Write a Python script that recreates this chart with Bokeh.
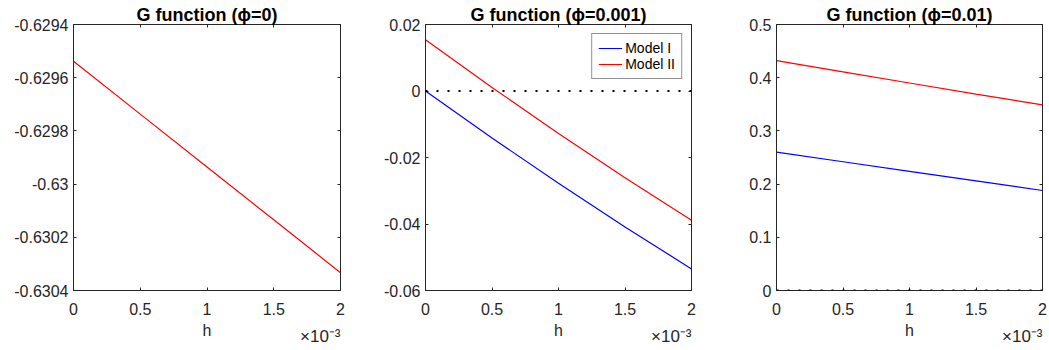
from bokeh.plotting import figure
from bokeh.models import (Range1d, FixedTicker, LinearAxis, Span, Title,
                          CustomJSTickFormatter, Legend, LegendItem,
                          CustomLabelingPolicy)
from bokeh.layouts import row
from bokeh.embed import file_html
from bokeh.resources import INLINE

# ---- data (h in units of 1e-3) ----
h = [0.0, 0.5, 1.0, 1.5, 2.0]

g_phi0_model2 = [-0.629538, -0.629737, -0.629936, -0.630134, -0.630333]

g_phi001_model1 = [0.0, -0.01413, -0.02775, -0.04088, -0.0535]
g_phi001_model2 = [0.0154, 0.00107, -0.01275, -0.02608, -0.0389]

g_phi01_model1 = [0.260, 0.242, 0.224, 0.206, 0.188]
g_phi01_model2 = [0.432, 0.411, 0.390, 0.369, 0.349]

x_ticks = [0, 0.5, 1, 1.5, 2]
y_ticks_1 = [-0.6304, -0.6302, -0.63, -0.6298, -0.6296, -0.6294]
y_ticks_2 = [-0.06, -0.04, -0.02, 0, 0.02]
y_ticks_3 = [0, 0.1, 0.2, 0.3, 0.4, 0.5]

titles = ["G function (\u03d5=0)", "G function (\u03d5=0.001)", "G function (\u03d5=0.01)"]
series_names = ["Model I", "Model II"]
x_label = "h"
x_multiplier = "\u00d710\u207b\u00b3"

# ---- style ----
FONT = "Liberation Sans"
AX = "#262626"
BLUE = "#0000FF"
RED = "#FF0000"

fmt = CustomJSTickFormatter(code="return (+tick.toPrecision(5)).toString();")


def style_axis(ax, hidden=False):
    ax.axis_line_color = AX
    ax.major_tick_line_color = AX
    ax.major_tick_in = 3
    ax.major_tick_out = 0
    ax.minor_tick_line_color = None
    ax.major_label_text_color = AX
    ax.major_label_text_font = FONT
    ax.major_label_text_font_size = "16px"
    if hidden:
        ax.major_label_policy = CustomLabelingPolicy(code="return new Set()")
        ax.major_label_text_font_size = "0px"
        ax.major_label_standoff = 0


def make_panel(title, y0, y1, yticks, series, width, bl, br,
               legend=False, zero=False):
    p = figure(width=width, height=350, x_range=Range1d(0, 2),
               y_range=Range1d(y0, y1), output_backend="svg",
               toolbar_location=None, min_border_left=bl,
               min_border_right=br, min_border_top=24, min_border_bottom=60,
               outline_line_color=AX, background_fill_color="white")
    p.grid.visible = False
    p.title.text = title
    p.title.align = "center"
    p.title.text_font = FONT
    p.title.text_font_size = "18px"
    p.title.text_font_style = "bold"
    p.title.text_color = "black"
    p.title.standoff = 0

    p.xaxis.ticker = FixedTicker(ticks=x_ticks)
    p.yaxis.ticker = FixedTicker(ticks=yticks)
    p.yaxis.formatter = fmt
    p.xaxis.formatter = fmt
    style_axis(p.xaxis[0])
    style_axis(p.yaxis[0])
    p.xaxis.axis_label = x_label
    p.xaxis.axis_label_text_font = FONT
    p.xaxis.axis_label_text_font_size = "16px"
    p.xaxis.axis_label_text_font_style = "normal"
    p.xaxis.axis_label_text_color = AX
    p.xaxis.axis_label_standoff = 4
    p.xaxis.major_label_standoff = 12
    p.yaxis.major_label_standoff = 5

    top = LinearAxis(ticker=FixedTicker(ticks=x_ticks))
    right = LinearAxis(ticker=FixedTicker(ticks=yticks))
    style_axis(top, hidden=True)
    style_axis(right, hidden=True)
    p.add_layout(top, "above")
    p.add_layout(right, "right")

    if zero:
        p.add_layout(Span(location=0, dimension="width", line_color="black",
                          line_width=2, line_dash="2 9"))

    renderers = []
    for ys, col in series:
        renderers.append(p.line(h, ys, line_color=col, line_width=1.2))

    if legend:
        lg = Legend(items=[LegendItem(label=series_names[0], renderers=[renderers[0]]),
                           LegendItem(label=series_names[1], renderers=[renderers[1]])],
                    location="top_right", margin=9, padding=6, spacing=0,
                    glyph_width=24, glyph_height=16, label_height=16,
                    label_standoff=3, label_text_font=FONT,
                    label_text_font_size="14px", label_text_color="black",
                    border_line_color=AX, border_line_width=1,
                    background_fill_alpha=1.0)
        p.add_layout(lg)

    mult = Title(text=x_multiplier, align="right", vertical_align="top",
                 text_font=FONT, text_font_size="17px",
                 text_font_style="normal", text_color=AX, standoff=-30)
    p.add_layout(mult, "below")
    return p


p1 = make_panel(titles[0], -0.6304, -0.6294, y_ticks_1,
                [(g_phi0_model2, RED)], 353, 73, 13)
p2 = make_panel(titles[1], -0.06, 0.02, y_ticks_2,
                [(g_phi001_model1, BLUE), (g_phi001_model2, RED)],
                345, 72, 7, legend=True, zero=True)
p3 = make_panel(titles[2], 0, 0.5, y_ticks_3,
                [(g_phi01_model1, BLUE), (g_phi01_model2, RED)],
                350, 78, 6, zero=True)

layout = row(p1, p2, p3)
open("out.html", "w").write(file_html(layout, INLINE))
